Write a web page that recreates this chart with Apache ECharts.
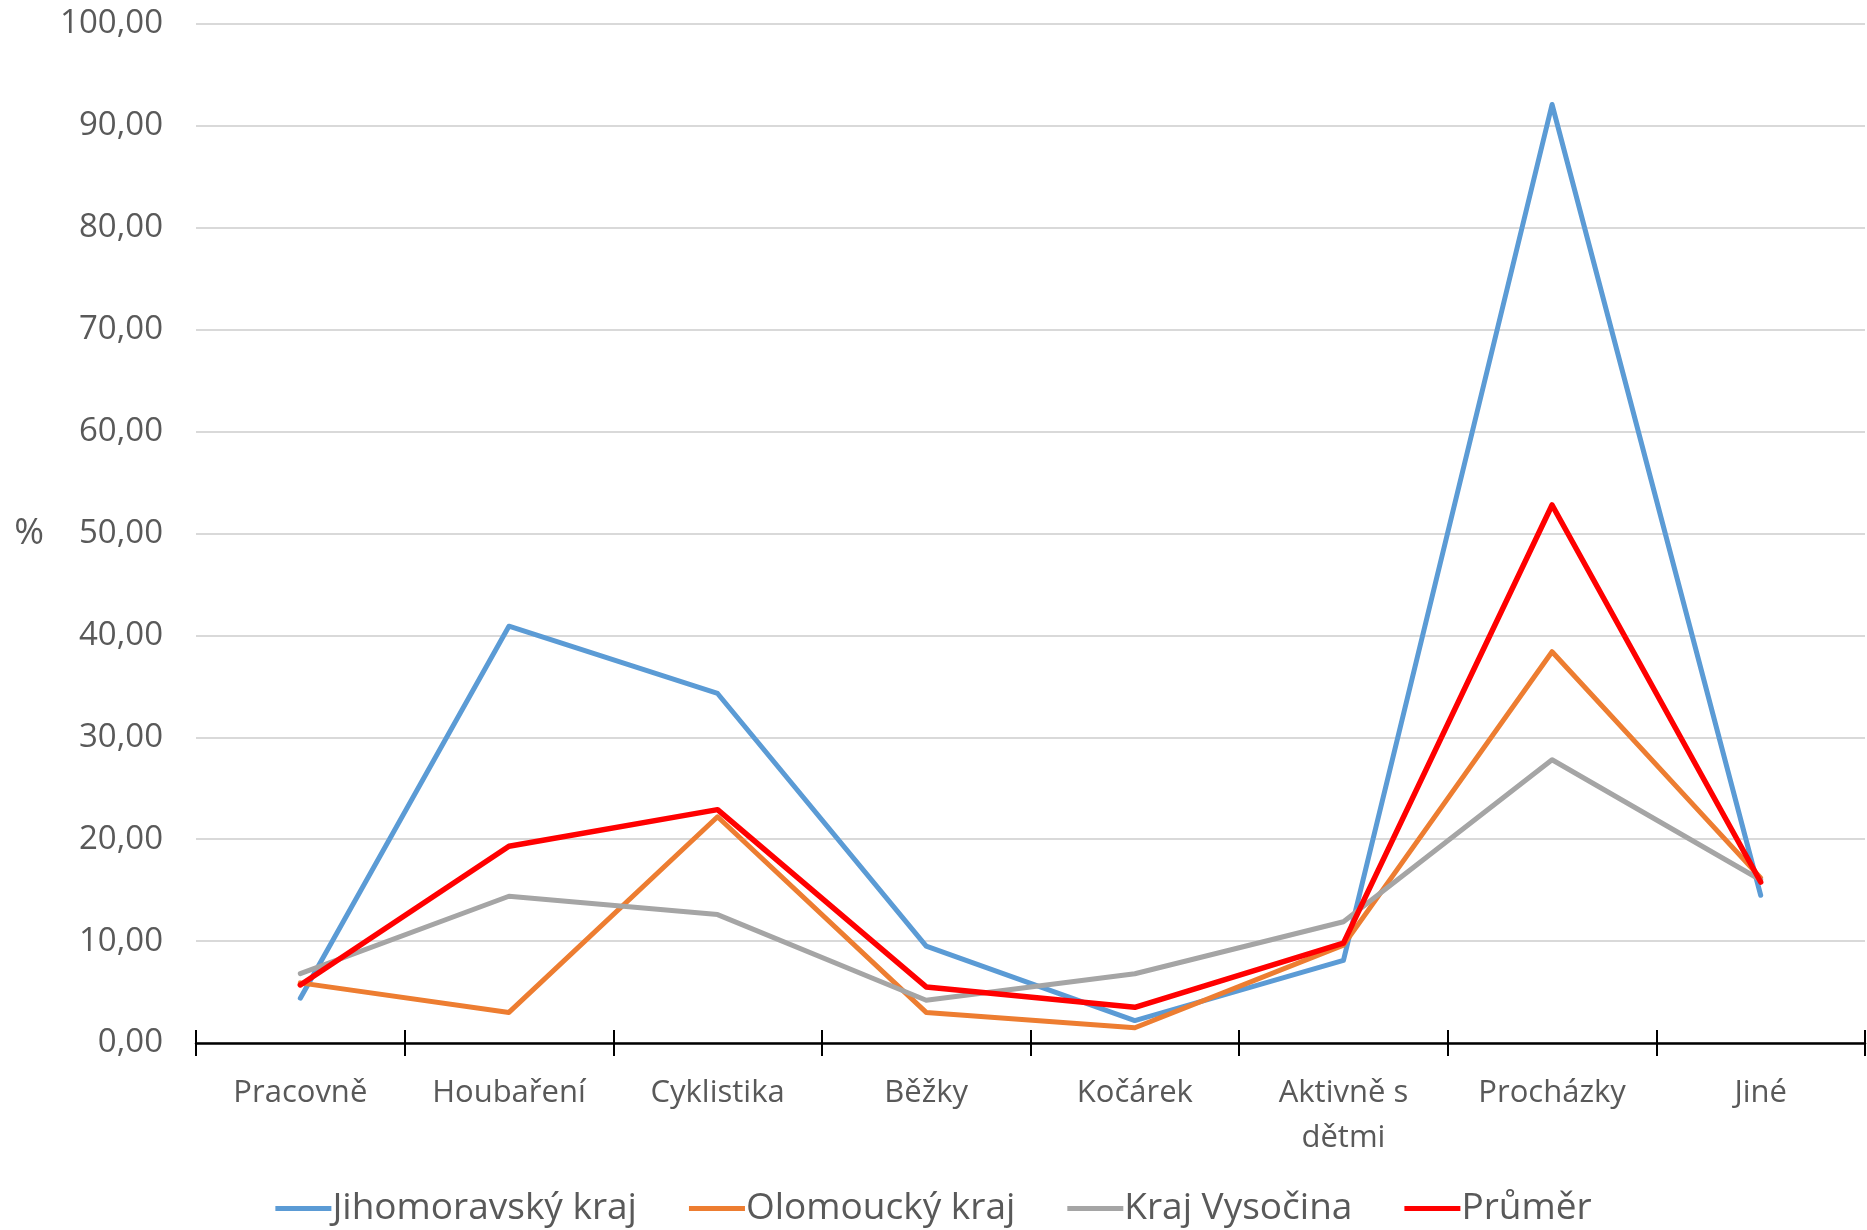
<!DOCTYPE html>
<html><head><meta charset="utf-8">
<script src="https://cdn.jsdelivr.net/npm/echarts@6/dist/echarts.min.js"></script>
<style>html,body{margin:0;padding:0;background:#fff}#c{width:1867px;height:1230px}</style>
</head><body><div id="c"></div>
<script>
const categories = ['Pracovně','Houbaření','Cyklistika','Běžky','Kočárek','Aktivně s\ndětmi','Procházky','Jiné'];
const jihomoravsky = [4.4, 40.9, 34.3, 9.5, 2.2, 8.1, 92.1, 14.5];
const olomoucky = [5.9, 3.0, 22.2, 3.0, 1.5, 9.6, 38.4, 16.2];
const vysocina = [6.8, 14.4, 12.6, 4.2, 6.8, 11.9, 27.8, 16.0];
const prumer = [5.7, 19.3, 22.9, 5.5, 3.5, 9.8, 52.8, 15.8];
const yTicks = {min: 0, max: 100, interval: 10};

const FONT = '"Liberation Sans Narrow", "Open Sans", sans-serif';
const chart = echarts.init(document.getElementById('c'));
function mk(name, data, color, w) {
  return {name, type: 'line', data, symbol: 'none', smooth: false,
    lineStyle: {color, width: w, join: 'round', cap: 'round'}, itemStyle: {color}};
}
chart.setOption({
  animation: false,
  textStyle: {fontFamily: FONT},
  grid: {left: 196, right: 2, top: 24, bottom: 187},
  legend: {
    bottom: -2, left: 'center', itemWidth: 56, itemHeight: 5, itemGap: 52,
    icon: 'rect',
    textStyle: {fontSize: 37, color: '#595959', fontFamily: FONT, padding: [0,0,0,-4]},
    data: ['Jihomoravský kraj','Olomoucký kraj','Kraj Vysočina','Průměr']
  },
  xAxis: [{
    type: 'category', data: categories, boundaryGap: true,
    axisLine: {lineStyle: {color: '#000', width: 2.5}},
    axisTick: {show: true, length: 13, lineStyle: {color: '#000', width: 2}},
    axisLabel: {fontSize: 31, color: '#595959', margin: 28, lineHeight: 45, fontFamily: FONT}
  }, {
    type: 'category', data: categories, boundaryGap: true, position: 'bottom',
    axisLine: {show: false},
    axisTick: {show: true, inside: true, length: 13, lineStyle: {color: '#000', width: 2}},
    axisLabel: {show: false}
  }],
  yAxis: {
    type: 'value', min: yTicks.min, max: yTicks.max, interval: yTicks.interval,
    name: '%', nameLocation: 'middle', nameGap: 152, nameRotate: 0,
    nameTextStyle: {fontSize: 36, color: '#595959', fontFamily: FONT},
    axisLine: {show: false}, axisTick: {show: false},
    splitLine: {lineStyle: {color: '#d9d9d9', width: 2}},
    axisLabel: {fontSize: 33, color: '#595959', margin: 33, fontFamily: FONT,
      formatter: v => v.toFixed(2).replace('.', ',')}
  },
  series: [
    mk('Jihomoravský kraj', jihomoravsky, '#5B9BD5', 5),
    mk('Olomoucký kraj', olomoucky, '#ED7D31', 5),
    mk('Kraj Vysočina', vysocina, '#A5A5A5', 5),
    mk('Průměr', prumer, '#FF0000', 5.5)
  ]
});
</script></body></html>
